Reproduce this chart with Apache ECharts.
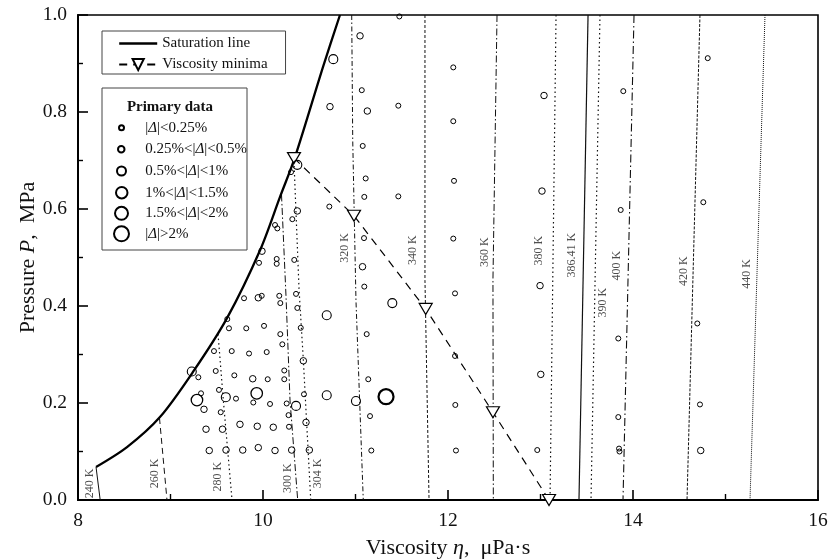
<!DOCTYPE html>
<html><head><meta charset="utf-8">
<script src="https://cdn.jsdelivr.net/npm/echarts@6/dist/echarts.min.js"></script>
<style>html,body{margin:0;padding:0;background:#fff}#c{width:828px;height:559px}</style>
</head><body><div id="c"></div>
<script>
// ---------- data ----------
const xTickLabels = ['8','10','12','14','16'];
const yTickLabels = ['0.0','0.2','0.4','0.6','0.8','1.0'];

const saturationLine = [[8.195,0.068],[8.53,0.109],[8.886,0.171],[9.243,0.264],[9.611,0.375],[9.968,0.515],[10.184,0.625],[10.346,0.707],[10.649,0.893],[10.832,1.0]];
const viscosityMinima = [[10.335,0.705],[10.984,0.586],[11.759,0.394],[12.486,0.181],[13.092,0.0]];

const iso240 = [[8.195,0.068],[8.24,0]];
const iso260 = [[8.881,0.169],[8.962,0]];
const iso280 = [[9.514,0.342],[9.571,0.206],[9.665,0]];
const iso300 = [[10.2,0.63],[10.249,0.419],[10.292,0.206],[10.375,0]];
const iso304 = [[10.335,0.698],[10.39,0.433],[10.436,0.289],[10.516,0]];
const iso320 = [[10.959,1.0],[10.97,0.742],[11.005,0.412],[11.084,0]];
const iso340 = [[11.751,1.0],[11.751,0.453],[11.795,0]];
const iso360 = [[12.53,1.0],[12.486,0.453],[12.49,0]];
const iso380 = [[13.168,1.0],[13.103,0]];
const iso386 = [[13.514,1.0],[13.416,0]];
const iso390 = [[13.643,1.0],[13.546,0]];
const iso400 = [[14.011,1.0],[13.892,0]];
const iso420 = [[14.724,1.0],[14.584,0]];
const iso440 = [[15.427,1.0],[15.265,0]];

const isoNames = ['240 K','260 K','280 K','300 K','304 K','320 K','340 K','360 K','380 K','386.41 K','390 K','400 K','420 K','440 K'];
const isoLabelPos = [[8.130,0.034],[8.832,0.055],[9.517,0.048],[10.267,0.045],[10.598,0.055],[10.886,0.520],[11.622,0.515],[12.400,0.511],[12.987,0.514],[13.337,0.505],[13.672,0.407],[13.824,0.483],[14.551,0.472],[15.229,0.466]];

const catNames = ['|Δ|<0.25%','0.25%<|Δ|<0.5%','0.5%<|Δ|<1%','1%<|Δ|<1.5%','1.5%<|Δ|<2%','|Δ|>2%'];
const pts0 = [
[10.130,0.567],[10.155,0.560],[10.317,0.579],[10.717,0.605],[9.957,0.489],[10.148,0.497],[10.148,0.487],[10.338,0.495],
[9.795,0.416],[9.986,0.421],[10.176,0.421],[10.187,0.406],[10.357,0.425],[10.371,0.396],
[9.614,0.373],[9.632,0.354],[9.819,0.354],[10.011,0.359],[10.187,0.342],[10.209,0.321],[10.408,0.355],
[9.470,0.307],[9.662,0.307],[9.849,0.302],[10.040,0.305],
[9.301,0.253],[9.489,0.266],[9.690,0.257],[10.051,0.249],[10.230,0.267],[10.230,0.249],[10.443,0.218],
[9.330,0.220],[9.524,0.227],[9.708,0.209],[9.895,0.201],[10.076,0.198],[10.256,0.199],
[9.543,0.181],[10.276,0.175],[10.281,0.151],[10.303,0.676],
[11.078,0.730],[11.110,0.663],[11.095,0.625],[11.092,0.540],[11.095,0.440],
[11.474,0.997],[11.068,0.845],[11.463,0.813],[11.463,0.626],
[12.057,0.892],[12.057,0.781],[12.065,0.658],[12.057,0.539],[12.076,0.426],[12.076,0.297],[12.079,0.196],[12.086,0.102],
[11.121,0.342],[11.138,0.249],[11.157,0.173],[11.171,0.102],
[12.965,0.103],
[13.895,0.843],[13.867,0.598],[13.841,0.333],[13.841,0.171],[13.849,0.106],[13.854,0.100],
[14.808,0.911],[14.760,0.614],[14.695,0.364],[14.724,0.197]
];
const pts1 = [
[9.989,0.513],[9.949,0.417],[10.371,0.596],[10.436,0.287],[9.889,0.250],[9.362,0.187],
[9.384,0.146],[9.562,0.146],[9.751,0.156],[9.938,0.152],[10.111,0.150],[10.465,0.160],
[9.419,0.102],[9.600,0.103],[9.781,0.103],[9.949,0.108],[10.130,0.102],[10.310,0.103],[10.501,0.103],
[11.049,0.957],[10.724,0.811],[11.128,0.802],[11.076,0.481],
[13.038,0.834],[13.016,0.637],[12.995,0.442],[13.003,0.259],[14.732,0.102]
];
const pts2 = [[9.230,0.265],[9.598,0.212],[10.357,0.194],[10.689,0.381],[10.689,0.216],[11.005,0.204],[10.760,0.909],[11.398,0.406],[10.371,0.691]];
const pts3 = [[9.286,0.206],[9.932,0.220]];
const pts4 = [];
const pts5 = [[11.330,0.213]];

// ---------- styles ----------
const serif = '"Liberation Serif","Times New Roman",serif';
const catSizes = [5, 6.5, 9, 11.5, 13, 15];
const catBorder = [1, 1, 1.1, 1.3, 2, 2.2];
const legendRowY = [126.7, 148.3, 170, 191.7, 212.3, 233.3];

const isoData = [iso240,iso260,iso280,iso300,iso304,iso320,iso340,iso360,iso380,iso386,iso390,iso400,iso420,iso440];
const isoStyles = [
  {type:'solid', width:1},
  {type:[6,4], width:1},
  {type:[1.5,3], width:1.2},
  {type:[7,2.5,1.5,2.5], width:1},
  {type:[1.5,3], width:1.2},
  {type:[5,2.5,1.5,2.5], width:1},
  {type:[3,2], width:1},
  {type:[7,2.5,1.5,2.5], width:1},
  {type:[1.5,3], width:1.2},
  {type:'solid', width:1.2},
  {type:[1.5,3], width:1.2},
  {type:[8,3,1.5,3], width:1.1},
  {type:[3,1.5], width:1},
  {type:[1,1], width:1}
];

const series = [];
isoData.forEach((d,i)=>{
  series.push({type:'line', name:isoNames[i], data:d, symbol:'none', silent:true, z:2,
    lineStyle:{color:'#111', width:isoStyles[i].width, type:isoStyles[i].type}});
});
series.push({type:'scatter', name:'isoLabels', silent:true, z:6, symbolSize:1,
  itemStyle:{color:'rgba(0,0,0,0)'},
  data: isoLabelPos.map((p,i)=>({value:p, name:isoNames[i]})),
  label:{show:true, position:'inside', rotate:90, formatter:'{b}', color:'#222',
    fontFamily:serif, fontSize:12}
});
series.push({type:'line', name:'Saturation line', data:saturationLine, symbol:'none', smooth:0.3, z:3,
  itemStyle:{color:'#000'},
  lineStyle:{color:'#000', width:2.3}});
series.push({type:'line', name:'Viscosity minima', data:viscosityMinima, symbol:'triangle', symbolRotate:180,
  symbolSize:[13,11], z:4, showSymbol:true,
  lineStyle:{color:'#000', width:1.2, type:[8,6]},
  itemStyle:{color:'#fff', borderColor:'#000', borderWidth:1.2}});
[pts0,pts1,pts2,pts3,pts4,pts5].forEach((d,i)=>{
  series.push({type:'scatter', name:catNames[i], data:d, symbol:'circle', symbolSize:catSizes[i],
    symbolKeepAspect:true, z:5,
    itemStyle:{color:'rgba(255,255,255,0)', borderColor:'#000', borderWidth:catBorder[i], opacity:1}});
});

const richDelta = {i:{fontStyle:'italic', fontFamily:serif, fontSize:15, color:'#111'}};
const legends = [{
  data:[{name:'Saturation line', itemStyle:{opacity:0}, lineStyle:{width:2.4, color:'#000'}}, 'Viscosity minima'],
  orient:'vertical', left:102, top:31,
  padding:[5,18,2,16], itemWidth:38, itemHeight:14, itemGap:6,
  borderColor:'#444', borderWidth:1, selectedMode:false,
  textStyle:{fontFamily:serif, fontSize:15, color:'#111'}
}];
catNames.forEach((n,i)=>{
  const D = catSizes[i];
  const left = Math.round(120.7 - D/2);
  const padL = 144.3 - (left + D + 5);
  legends.push({data:[n], orient:'vertical', left:left, top:legendRowY[i] - (D < 15 ? 6.5 : 8), padding:0,
    itemWidth:D, itemHeight:D, selectedMode:false,
    formatter: s => s.replace('Δ','{i|Δ}'),
    textStyle:{fontFamily:serif, fontSize:15, color:'#111', rich:richDelta, padding:[0,0,0,padL]}});
});

const option = {
  animation:false,
  backgroundColor:'#fff',
  grid:{left:78, right:10, top:15, bottom:59, show:true, borderColor:'#000', borderWidth:1.6,
    outerBoundsMode:'none', containLabel:false},
  xAxis:{type:'value', min:8, max:16, interval:2,
    name:'Viscosity {i|η},  μPa·s', nameLocation:'middle', nameGap:37, nameMoveOverlap:false,
    nameTextStyle:{fontFamily:serif, fontSize:22, color:'#111', rich:{i:{fontStyle:'italic', fontFamily:serif, fontSize:22, color:'#111'}}},
    axisLine:{lineStyle:{color:'#000', width:2}},
    axisTick:{inside:true, length:10, lineStyle:{color:'#000', width:1.6}},
    minorTick:{show:true, splitNumber:2, length:6, lineStyle:{color:'#000', width:1.4}},
    splitLine:{show:false},
    axisLabel:{margin:11, fontFamily:serif, fontSize:19.5, color:'#111',
      formatter: v => xTickLabels[Math.round((v-8)/2)]}
  },
  yAxis:{type:'value', min:0, max:1, interval:0.2,
    name:'Pressure {i|P},  MPa', nameLocation:'middle', nameGap:39, nameMoveOverlap:false,
    nameTextStyle:{fontFamily:serif, fontSize:22, color:'#111', rich:{i:{fontStyle:'italic', fontFamily:serif, fontSize:22, color:'#111'}}},
    axisLine:{lineStyle:{color:'#000', width:2}},
    axisTick:{inside:true, length:10, lineStyle:{color:'#000', width:1.6}},
    minorTick:{show:true, splitNumber:2, length:5, lineStyle:{color:'#000', width:1.4}},
    splitLine:{show:false},
    axisLabel:{margin:11, fontFamily:serif, fontSize:19.5, color:'#111',
      formatter: v => yTickLabels[Math.round(v/0.2)]}
  },
  legend: legends,
  graphic:[
    {type:'rect', shape:{x:102, y:88, width:145, height:162}, style:{fill:'none', stroke:'#444', lineWidth:1}, z:10},
    {type:'text', x:170, y:107, style:{text:'Primary data', fontFamily:serif, fontWeight:'bold', fontSize:15, fill:'#111', align:'center', verticalAlign:'middle'}, z:10}
  ],
  series: series
};
const chart = echarts.init(document.getElementById('c'));
chart.setOption(option);
</script>
</body></html>
